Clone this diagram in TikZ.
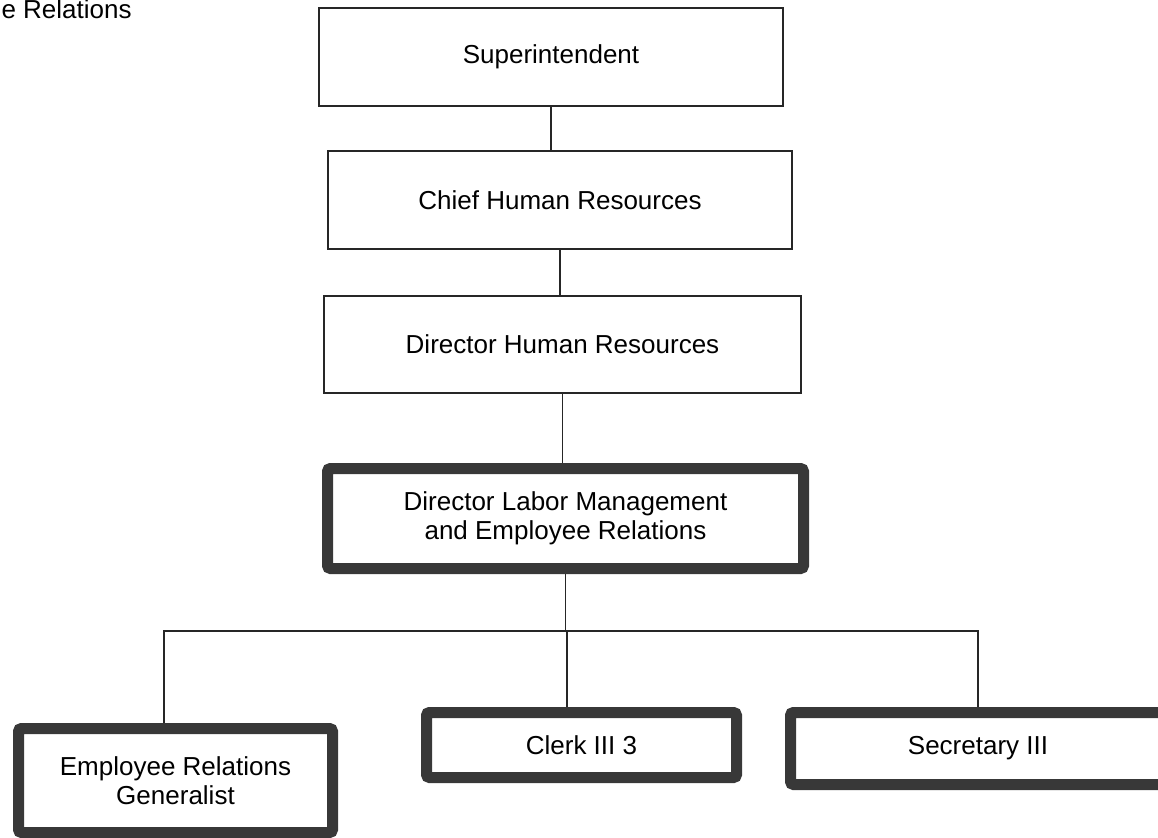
\documentclass[tikz,border=0pt]{standalone}
\usepackage{fontspec}
\setmainfont{Liberation Sans}
\usetikzlibrary{calc, positioning}

\begin{document}
\begin{tikzpicture}[
    x=0.5pt, y=-0.5pt,
    every node/.style={rectangle, align=center, font=\fontsize{13pt}{14.5pt}\selectfont, inner sep=2pt},
    plainbox/.style={draw=black!85, line width=1.3pt, minimum width=232pt, minimum height=49pt},
    heavybox/.style={draw=black!78, line width=5.5pt, rounded corners=1.5pt, fill=white},
    link/.style={draw=black!85, line width=0.9pt},
    thinlink/.style={draw=black!85, line width=0.6pt}
]
\clip (0,0) rectangle (1158,837);
\fill[white] (0,0) rectangle (1158,837);

\node[anchor=base east] (title) at (136,18) {e Relations};

\node[plainbox] (super) at (551,57) {Superintendent};
\node[plainbox] (chief) at (560,200) {Chief Human Resources};
\node[plainbox, minimum width=238.5pt, minimum height=48.5pt] (dirhr) at (562.5,344.5) {Director Human Resources};
\node[heavybox, minimum width=238pt, minimum height=50pt] (dlmer) at (565.5,518.5) {Director Labor Management\\and Employee Relations};

\node[heavybox, minimum width=157pt, minimum height=52pt] (erg) at (175.5,780.5) {Employee Relations\\Generalist};
\node[heavybox, minimum width=155pt, minimum height=32.5pt] (clerk) at (581.5,745) {Clerk III 3};
\node[heavybox, minimum width=187.5pt, minimum height=36pt] (sec) at (978,748.5) {Secretary III};

\coordinate (bus) at (567,631);

\draw[link] (super.south) -- (super.south |- chief.north);
\draw[link] (chief.south) -- (chief.south |- dirhr.north);
\draw[link] (dirhr.south) -- (dirhr.south |- dlmer.north);
\draw[link] (dlmer.south) -- (dlmer.south |- bus);
\draw[link] ([xshift=-5.75pt]erg.north) |- (sec.north |- bus) -- (sec.north);
\draw[thinlink] (bus) -- (bus |- clerk.north);

\end{tikzpicture}
\end{document}
